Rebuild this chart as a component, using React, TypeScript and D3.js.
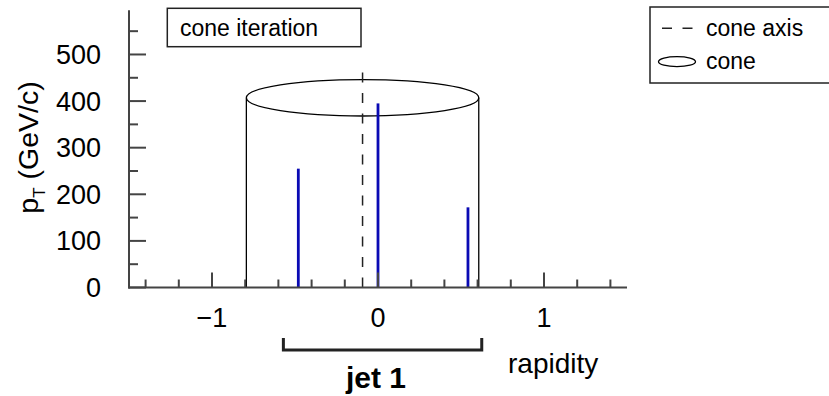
import React from "react";
import * as d3 from "d3";

// ---- data ----
const particleRapidity = [-0.48, 0.0, 0.542];
const particlePt = [255, 395, 172];
const coneAxis = -0.093;
const coneRadius = 0.7;
const coneTopPt = 407;
const coneEllipsePt = 39;
const coneAxisTopPt = 470;
const jetRange = [-0.57, 0.625];
const yMajorTicks = [0, 100, 200, 300, 400, 500];
const yMinorTicks = [50, 150, 250, 350, 450, 550];
const xMajorTicks = [-1, 0, 1];
const xMinorTicks = [-1.4, -1.2, -0.8, -0.6, -0.4, -0.2, 0.2, 0.4, 0.6, 0.8, 1.2, 1.4];
const legendItems = ["cone axis", "cone"];

const W = 829;
const H = 396;
const FONT = "'Liberation Sans', Arial, Helvetica, sans-serif";

export default function App() {
  const x = d3.scaleLinear().domain([-1.5, 1.5]).range([129, 627]);
  const y = d3.scaleLinear().domain([0, 595]).range([287.5, 10.2]);
  const axisColor = "#444";
  const y0 = y(0);
  const x0 = x(-1.5);

  const ellipseRx = x(coneAxis + coneRadius) - x(coneAxis);
  const ellipseRy = y(0) - y(coneEllipsePt);
  const fmt = (v: number) => (v < 0 ? "\u2212" + Math.abs(v) : String(v));

  return (
    <svg
      width={W}
      height={H}
      style={{ position: "absolute", left: 0, top: 0, background: "#fff" }}
      fontFamily={FONT}
    >
      <rect x={0} y={0} width={W} height={H} fill="#fff" />

      {/* cone */}
      <g stroke="#000" strokeWidth={1.3} fill="none">
        <line x1={x(coneAxis - coneRadius)} x2={x(coneAxis - coneRadius)} y1={y0} y2={y(coneTopPt)} />
        <line x1={x(coneAxis + coneRadius)} x2={x(coneAxis + coneRadius)} y1={y0} y2={y(coneTopPt)} />
        <ellipse cx={x(coneAxis)} cy={y(coneTopPt)} rx={ellipseRx} ry={ellipseRy} />
      </g>

      {/* cone axis */}
      <line
        x1={x(coneAxis)}
        x2={x(coneAxis)}
        y1={y0}
        y2={y(coneAxisTopPt)}
        stroke="#222"
        strokeWidth={1.5}
        strokeDasharray="10 10.5"
      />

      {/* particles */}
      {particleRapidity.map((r, i) => (
        <line
          key={i}
          x1={x(r)}
          x2={x(r)}
          y1={y0}
          y2={y(particlePt[i])}
          stroke="#0a0ab4"
          strokeWidth={2.8}
        />
      ))}

      {/* axes */}
      <g stroke={axisColor} strokeWidth={2}>
        <line x1={x0} x2={x0} y1={y.range()[1]} y2={y0 + 1} />
        <line x1={x0 - 1} x2={x(1.5)} y1={y0} y2={y0} />
        {yMajorTicks.map((t) => (
          <line key={"ym" + t} x1={x0} x2={x0 + 17} y1={y(t)} y2={y(t)} />
        ))}
        {yMinorTicks.map((t) => (
          <line key={"yn" + t} x1={x0} x2={x0 + 9} y1={y(t)} y2={y(t)} />
        ))}
        {xMajorTicks.map((t) => (
          <line key={"xm" + t} x1={x(t)} x2={x(t)} y1={y0} y2={y0 - 15} />
        ))}
        {xMinorTicks.map((t) => (
          <line key={"xn" + t} x1={x(t)} x2={x(t)} y1={y0} y2={y0 - 8} />
        ))}
      </g>

      {/* tick labels */}
      <g fontSize={27} fill="#000">
        {yMajorTicks.map((t) => (
          <text key={"yl" + t} x={101} y={y(t)} dy="0.35em" textAnchor="end">
            {t}
          </text>
        ))}
        {xMajorTicks.map((t) => (
          <text key={"xl" + t} x={x(t)} y={327} textAnchor="middle">
            {fmt(t)}
          </text>
        ))}
      </g>

      {/* axis titles */}
      <text x={508} y={373} fontSize={28}>rapidity</text>
      <text transform="translate(38,147.5) rotate(-90)" fontSize={28.5} textAnchor="middle">
        <tspan>p</tspan>
        <tspan fontSize={17} dy={7}>T</tspan>
        <tspan dy={-7}> (GeV/c)</tspan>
      </text>

      {/* jet bracket */}
      <path
        d={`M${x(jetRange[0])},338 V350 H${x(jetRange[1])} V338`}
        fill="none"
        stroke="#222"
        strokeWidth={3}
      />
      <text x={376} y={388} fontSize={30} fontWeight="bold" textAnchor="middle">
        jet 1
      </text>

      {/* cone iteration label */}
      <rect x={167.3} y={8.3} width={193.7} height={38.4} fill="#fff" stroke="#222" strokeWidth={1.5} />
      <text x={180} y={36} fontSize={23}>cone iteration</text>

      {/* legend */}
      <rect x={650} y={7} width={200} height={76} fill="#fff" stroke="#222" strokeWidth={1.5} />
      <line x1={662} x2={693} y1={28.3} y2={28.3} stroke="#222" strokeWidth={1.5} strokeDasharray="10 10.5" />
      <text x={706} y={36} fontSize={23}>{legendItems[0]}</text>
      <ellipse cx={677} cy={61.7} rx={18.5} ry={5} fill="none" stroke="#000" strokeWidth={1.3} />
      <text x={706} y={69} fontSize={23}>{legendItems[1]}</text>
    </svg>
  );
}
